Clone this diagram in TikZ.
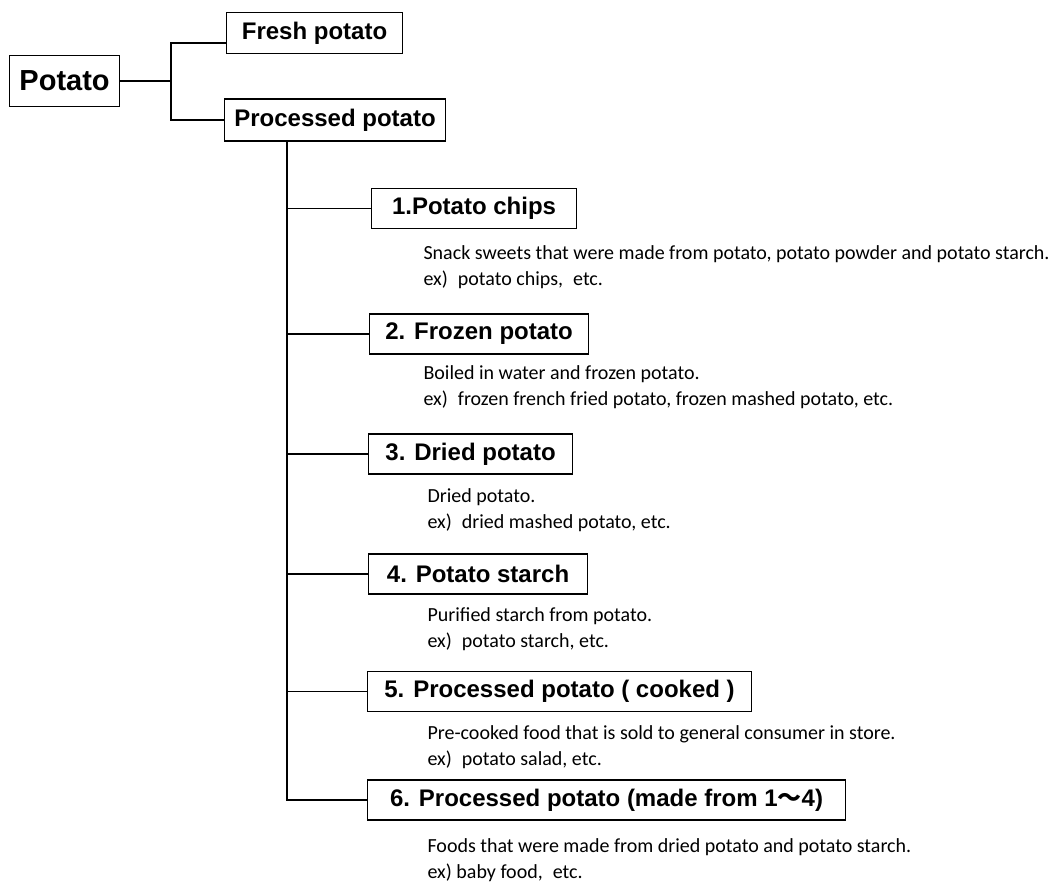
\documentclass[tikz,border=0pt]{standalone}
\usepackage{fontspec}
\setmainfont{Carlito}
\newfontfamily\boxfamily{Liberation Sans}
\newfontfamily\cjkfamily{Noto Sans CJK JP}
\newcommand{\boxfont}{\boxfamily\bfseries\fontsize{24}{28}\selectfont}
\newcommand{\rootfont}{\boxfamily\bfseries\fontsize{29}{33}\selectfont}
\newcommand{\descfont}{\fontsize{20}{26}\selectfont}

\begin{document}
\begin{tikzpicture}[x=1pt, y=-1pt, line width=1.1pt,
  box/.style={draw, anchor=west, inner sep=0pt, minimum height=40pt, font=\boxfont},
  desc/.style={anchor=west, align=left, inner sep=0pt, font=\descfont}]
\useasboundingbox (0,0) rectangle (1057,887);

% 1. 根节点与两个分支
\node[box, font=\rootfont, minimum width=110pt, minimum height=51pt] (potato) at (9,81) {Potato};
\node[box, minimum width=176pt, minimum height=41pt] (fresh) at (226,33) {Fresh potato};
\node[box, minimum width=221pt, minimum height=42pt] (processed) at (224,120) {Processed potato};
\coordinate (fork) at (171,81);
\draw (potato.east) -- (fork) |- ([yshift=-10pt]fresh.west);
\draw (fork) |- (processed.west);

% 2. 六个加工类别
\node[box, minimum width=205pt] (chips) at (371,208.5) {1.Potato chips};
\node[box, minimum width=219pt] (frozen) at (369,334) {2. Frozen potato};
\node[box, minimum width=204pt] (dried) at (368,454) {3. Dried potato};
\node[box, minimum width=219pt] (starch) at (368,574) {4. Potato starch};
\node[box, minimum width=384pt] (cooked) at (367,691.5) {5. Processed potato ( cooked )};
\node[box, minimum width=478pt] (madefrom) at (367,800) {6. Processed potato (made from 1{\cjkfamily ～}4)};

% 3. 主干竖线与横线
\coordinate (trunk) at ([xshift=63pt]processed.south west);
\draw (trunk) |- (madefrom.west);
\foreach \n in {chips, frozen, dried, starch, cooked}
  \draw (trunk |- \n.west) -- (\n.west);

% 4. 说明文字
\node[desc] (chipsnote) at (423,267) {Snack sweets that were made from potato, potato powder and potato starch.\\ex)\enspace potato chips,\enspace etc.};
\node[desc] (frozennote) at (423,387) {Boiled in water and frozen potato.\\ex)\enspace frozen french fried potato, frozen mashed potato, etc.};
\node[desc] (driednote) at (427,510) {Dried potato.\\ex)\enspace dried mashed potato, etc.};
\node[desc] (starchnote) at (427,629.5) {Purified starch from potato.\\ex)\enspace potato starch, etc.};
\node[desc] (cookednote) at (427,747) {Pre-cooked food that is sold to general consumer in store.\\ex)\enspace potato salad, etc.};
\node[desc] (madefromnote) at (427,860) {Foods that were made from dried potato and potato starch.\\ex) baby food,\enspace etc.};
\end{tikzpicture}
\end{document}
